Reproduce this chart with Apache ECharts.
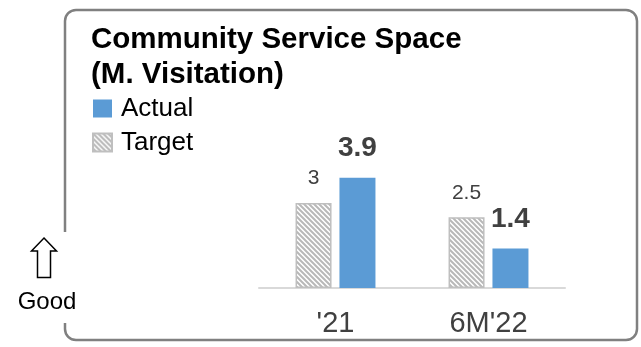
<!DOCTYPE html>
<html>
<head>
<meta charset="utf-8">
<script src="https://cdn.jsdelivr.net/npm/echarts@6/dist/echarts.min.js"></script>
<style>
  html, body { margin: 0; padding: 0; background: #fff; }
  #chart { width: 641px; height: 347px; }
</style>
</head>
<body>
<div id="chart"></div>
<script>
// Chart data
const categories = ["'21", "6M'22"];
const targetValues = [3, 2.5];
const actualValues = [3.9, 1.4];
const seriesNames = ['Actual', 'Target'];

const FONT = '"Liberation Sans", Arial, Helvetica, sans-serif';

// Diagonal hatch tile used for the Target bars
function hatchPattern() {
  const size = 5;
  const c = document.createElement('canvas');
  c.width = size; c.height = size;
  const g = c.getContext('2d');
  g.fillStyle = '#ffffff';
  g.fillRect(0, 0, size, size);
  g.strokeStyle = '#b8b8b8';
  g.lineWidth = 2;
  g.beginPath();
  for (let k = -1; k <= 1; k++) {
    g.moveTo(k * size - 1, -1);
    g.lineTo(k * size + size + 1, size + 1);
  }
  g.stroke();
  return c;
}

const chart = echarts.init(document.getElementById('chart'), null, { renderer: 'canvas' });

chart.setOption({
  animation: false,
  backgroundColor: '#ffffff',
  textStyle: { fontFamily: FONT },
  title: {
    text: 'Community Service Space\n(M. Visitation)',
    left: 91,
    top: 22,
    padding: 0,
    textStyle: {
      fontFamily: FONT,
      fontSize: 29.5,
      fontWeight: 'bold',
      color: '#000000',
      lineHeight: 35
    }
  },
  legend: {
    data: seriesNames,
    orient: 'vertical',
    left: 92,
    top: 95.5,
    padding: 0,
    itemWidth: 19,
    itemHeight: 18,
    itemGap: 8,
    icon: 'rect',
    selectedMode: false,
    textStyle: {
      fontFamily: FONT,
      fontSize: 26,
      lineHeight: 25,
      color: '#000000',
      padding: [0, 0, 0, 4]
    }
  },
  grid: { left: 259, right: 76, top: 146.5, bottom: 59, containLabel: false },
  xAxis: {
    type: 'category',
    data: categories,
    axisLine: { show: true, lineStyle: { color: '#d9d9d9', width: 2 } },
    axisTick: { show: false },
    axisLabel: {
      margin: 21,
      fontFamily: FONT,
      fontSize: 29,
      color: '#404040'
    }
  },
  yAxis: {
    type: 'value',
    min: 0,
    max: 5,
    show: false,
    splitLine: { show: false }
  },
  series: [
    {
      name: 'Target',
      type: 'bar',
      data: targetValues,
      barWidth: 36,
      barGap: '22%',
      itemStyle: {
        color: { image: hatchPattern(), repeat: 'repeat' },
        borderColor: '#bfbfbf',
        borderWidth: 1.5
      },
      label: {
        show: true,
        position: 'top',
        distance: 14,
        fontFamily: FONT,
        fontSize: 21,
        color: '#404040'
      }
    },
    {
      name: 'Actual',
      type: 'bar',
      data: actualValues,
      barWidth: 36,
      barGap: '22%',
      itemStyle: { color: '#5b9bd5' },
      label: {
        show: true,
        position: 'top',
        distance: 15,
        fontFamily: FONT,
        fontSize: 28,
        fontWeight: 'bold',
        color: '#404040'
      }
    }
  ],
  graphic: [
    {
      type: 'rect',
      silent: true,
      z: 0,
      shape: { x: 65, y: 10, width: 572, height: 330, r: 11 },
      style: { fill: 'none', stroke: '#808080', lineWidth: 2.5 }
    },
    {
      // opening in the frame's left side beside the "Good" marker
      type: 'rect',
      silent: true,
      z: 1,
      shape: { x: 62, y: 232, width: 7, height: 91 },
      style: { fill: '#ffffff' }
    },
    {
      type: 'polygon',
      silent: true,
      z: 2,
      shape: {
        points: [[44, 238], [56.5, 251], [50.5, 251], [50.5, 277.5], [37.5, 277.5], [37.5, 251], [31.5, 251]]
      },
      style: { fill: '#ffffff', stroke: '#000000', lineWidth: 1.5 }
    },
    {
      type: 'text',
      silent: true,
      z: 2,
      style: {
        x: 47,
        y: 302,
        text: 'Good',
        fontFamily: FONT,
        fontSize: 24,
        fill: '#000000',
        textAlign: 'center',
        textVerticalAlign: 'middle'
      }
    }
  ]
});
</script>
</body>
</html>
